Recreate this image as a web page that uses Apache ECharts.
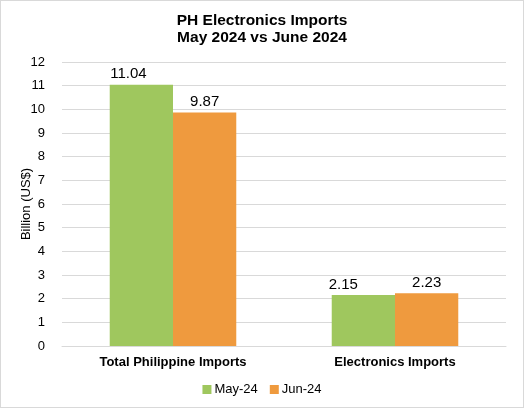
<!DOCTYPE html>
<html>
<head>
<meta charset="utf-8">
<script src="https://cdn.jsdelivr.net/npm/echarts@6/dist/echarts.min.js"></script>
<style>
  html,body{margin:0;padding:0;background:#fff;}
  #main{position:absolute;left:0;top:0;width:522px;height:406px;border:1px solid #d9d9d9;}
</style>
</head>
<body>
<div id="main"></div>
<script>
var categories = ['Total Philippine Imports', 'Electronics Imports'];
var may24 = [11.04, 2.15];
var jun24 = [9.87, 2.23];
var seriesNames = ['May-24', 'Jun-24'];

var myChart = echarts.init(document.getElementById('main'));
var font = 'Liberation Sans, Arial, sans-serif';
var labelStyle = { show: true, position: 'top', fontSize: 15, color: '#000', distance: 3 };
// the May labels sit a bit left of their bars in the original
var mayOffsets = [[-13, 0], [-20, 0]];

myChart.setOption({
  textStyle: { fontFamily: font },
  title: {
    text: 'PH Electronics Imports\nMay 2024 vs June 2024',
    left: 'center',
    top: 6,
    textStyle: { fontSize: 15.5, fontWeight: 'bold', color: '#000', lineHeight: 17, fontFamily: font }
  },
  legend: {
    bottom: 6,
    left: 'center',
    itemWidth: 9,
    itemHeight: 9,
    itemGap: 12,
    icon: 'rect',
    textStyle: { fontSize: 13, color: '#000', padding: [0, 0, 0, -2] },
    data: seriesNames
  },
  grid: { left: 61, right: 17, top: 61, bottom: 61 },
  xAxis: {
    type: 'category',
    data: categories,
    axisTick: { show: false },
    axisLine: { lineStyle: { color: '#d9d9d9' } },
    axisLabel: { fontSize: 13, fontWeight: 'bold', color: '#000', margin: 10 }
  },
  yAxis: {
    type: 'value',
    min: 0,
    max: 12,
    interval: 1,
    name: 'Billion (US$)',
    nameLocation: 'middle',
    nameGap: 29,
    nameMoveOverlap: false,
    nameTextStyle: { fontSize: 13, color: '#000' },
    axisLabel: { fontSize: 13, color: '#000', margin: 17 },
    splitLine: { lineStyle: { color: '#d9d9d9' } }
  },
  series: [
    {
      name: seriesNames[0],
      type: 'bar',
      data: may24.map(function (v, i) {
        return { value: v, label: { offset: mayOffsets[i] } };
      }),
      barWidth: '28.5%',
      barGap: '0%',
      itemStyle: { color: '#9FC75E' },
      label: labelStyle
    },
    {
      name: seriesNames[1],
      type: 'bar',
      data: jun24,
      barWidth: '28.5%',
      itemStyle: { color: '#EF9A3E' },
      label: labelStyle
    }
  ]
});
</script>
</body>
</html>
